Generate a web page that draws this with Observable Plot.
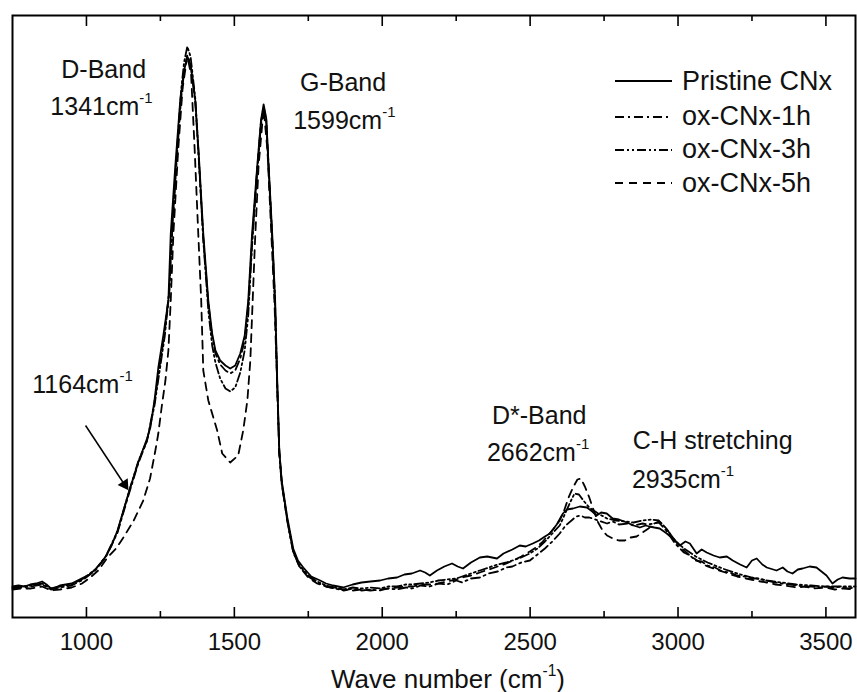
<!DOCTYPE html>
<html><head><meta charset="utf-8">
<script src="https://cdn.jsdelivr.net/npm/d3@7"></script>
<script src="https://cdn.jsdelivr.net/npm/@observablehq/plot@0.6"></script>
<style>body{margin:0;background:#fff}#chart{position:relative;width:857px;height:692px}</style>
</head><body><div id="chart"></div>
<script>
// Raman spectra: [wavenumber (cm-1), intensity (a.u.)]
const seriesNames = ["Pristine CNx", "ox-CNx-1h", "ox-CNx-3h", "ox-CNx-5h"];
const seriesDash = ["none", "9,4,2,4", "9,3,2,3,2,3", "8,6"];

const pristine = [[750,31],[770,32],[790,31],[810,33],[830,34],[850,36],[865,33],[880,29],[895,30],[910,32],[930,33],[950,34],[970,37],[990,40],[1010,43],[1030,48],[1047,54],[1065,61],[1085,72],[1105,87],[1125,107],[1145,127],[1159,140],[1175,155],[1190,167],[1205,179],[1216,190],[1230,217],[1243,250],[1260,282],[1277,317],[1285,384],[1300,450],[1317,517],[1330,547],[1341,561],[1352,553],[1368,517],[1380,462],[1395,384],[1412,317],[1425,284],[1436,267],[1452,257],[1470,252],[1486,249],[1503,252],[1520,264],[1535,282],[1547,317],[1560,384],[1577,450],[1590,497],[1599,513],[1608,499],[1615,457],[1628,384],[1638,317],[1645,237],[1652,167],[1660,137],[1679,100],[1699,69],[1715,57],[1733,50],[1760,41],[1790,37],[1810,34],[1834,32],[1868,30],[1900,33],[1930,35],[1960,36],[1993,37],[2020,39],[2050,40],[2075,43],[2100,44],[2128,47],[2145,45],[2161,42],[2185,47],[2210,51],[2236,54],[2255,51],[2273,49],[2300,55],[2330,60],[2355,61],[2388,59],[2410,64],[2440,68],[2465,72],[2485,71],[2509,74],[2530,77],[2550,81],[2567,84],[2590,93],[2611,104],[2624,108],[2645,109],[2668,111],[2692,110],[2710,106],[2725,102],[2740,105],[2759,104],[2779,99],[2800,98],[2827,95],[2850,92],[2871,90],[2890,92],[2904,91],[2920,90],[2938,89],[2962,84],[2982,79],[3006,72],[3025,76],[3040,74],[3063,64],[3080,68],[3097,65],[3120,62],[3141,60],[3165,61],[3185,57],[3210,53],[3232,50],[3250,57],[3266,59],[3285,53],[3300,50],[3333,47],[3354,50],[3370,46],[3387,44],[3405,48],[3421,49],[3445,51],[3468,50],[3485,46],[3502,42],[3522,34],[3540,38],[3556,40],[3580,39],[3600,39]];

const ox1h = [[750,29],[780,30],[810,31],[850,33],[880,28],[910,30],[950,32],[990,38],[1030,47],[1065,60],[1105,85],[1145,125],[1175,154],[1205,177],[1230,215],[1250,257],[1265,287],[1280,327],[1290,387],[1305,457],[1320,519],[1330,545],[1341,562],[1352,554],[1368,515],[1380,457],[1395,379],[1412,314],[1425,281],[1436,264],[1452,253],[1470,247],[1486,244],[1503,247],[1520,259],[1535,277],[1547,312],[1560,377],[1577,447],[1590,495],[1599,511],[1608,497],[1615,455],[1628,381],[1638,312],[1645,232],[1652,165],[1660,135],[1679,97],[1699,65],[1720,51],[1750,41],[1780,35],[1810,31],[1840,29],[1870,27],[1900,29],[1930,27],[1960,28],[1993,27],[2020,29],[2050,28],[2080,30],[2100,29],[2130,32],[2160,31],[2190,34],[2220,33],[2250,37],[2270,35],[2300,39],[2330,40],[2360,44],[2390,46],[2420,50],[2440,51],[2470,55],[2499,57],[2525,63],[2550,69],[2575,76],[2600,84],[2620,92],[2640,97],[2655,101],[2670,102],[2685,100],[2700,100],[2730,97],[2760,94],[2780,96],[2800,93],[2830,94],[2850,92],[2880,94],[2900,93],[2935,95],[2960,87],[2990,74],[3020,65],[3040,62],[3060,57],[3080,56],[3100,52],[3125,50],[3150,46],[3175,45],[3200,42],[3225,41],[3250,39],[3275,39],[3300,37],[3330,35],[3350,34],[3380,33],[3400,32],[3430,31],[3450,31],[3480,30],[3500,31],[3530,30],[3550,31],[3575,29],[3600,30]];

const ox3h = [[750,30],[780,31],[810,32],[850,34],[880,29],[910,31],[950,33],[990,39],[1030,48],[1065,61],[1105,86],[1145,127],[1175,156],[1205,177],[1230,212],[1250,252],[1265,282],[1280,325],[1290,387],[1305,462],[1320,527],[1330,555],[1341,571],[1352,561],[1368,519],[1380,459],[1395,377],[1412,307],[1425,272],[1436,255],[1452,239],[1470,229],[1486,226],[1503,230],[1520,245],[1535,267],[1547,302],[1560,372],[1577,445],[1590,493],[1599,509],[1608,495],[1615,453],[1628,379],[1638,311],[1645,231],[1652,164],[1660,134],[1679,97],[1699,66],[1720,52],[1750,42],[1780,36],[1810,32],[1840,30],[1870,28],[1900,30],[1930,29],[1960,30],[1993,29],[2020,31],[2050,31],[2080,33],[2100,33],[2130,34],[2160,35],[2190,37],[2220,38],[2250,39],[2270,41],[2300,44],[2330,47],[2360,50],[2390,53],[2420,55],[2440,57],[2470,60],[2499,64],[2525,69],[2550,76],[2575,84],[2600,92],[2620,105],[2635,115],[2650,124],[2665,123],[2680,117],[2700,110],[2730,104],[2760,99],[2790,97],[2820,96],[2850,95],[2880,97],[2910,98],[2935,97],[2960,89],[2990,77],[3020,69],[3060,61],[3100,55],[3150,49],[3200,44],[3250,40],[3300,37],[3350,35],[3400,33],[3450,32],[3500,31],[3550,31],[3600,31]];

const ox5h = [[750,28],[780,29],[810,29],[850,31],[880,27],[910,28],[950,30],[985,34],[1013,40],[1040,47],[1071,60],[1100,69],[1125,80],[1160,97],[1192,117],[1215,139],[1233,167],[1243,184],[1255,212],[1267,237],[1277,267],[1285,317],[1294,384],[1310,467],[1325,529],[1341,562],[1354,542],[1366,467],[1378,384],[1388,317],[1395,247],[1412,217],[1442,187],[1459,164],[1486,155],[1513,162],[1530,187],[1544,217],[1554,257],[1562,317],[1570,377],[1582,452],[1599,509],[1612,467],[1625,384],[1636,312],[1645,232],[1652,165],[1662,131],[1680,95],[1700,65],[1720,51],[1750,40],[1780,34],[1810,31],[1840,29],[1870,28],[1900,27],[1930,28],[1960,27],[1993,28],[2020,29],[2050,30],[2080,31],[2104,31],[2130,33],[2160,33],[2190,34],[2219,36],[2250,38],[2270,40],[2300,42],[2330,45],[2360,48],[2390,51],[2420,54],[2442,57],[2470,61],[2499,66],[2520,70],[2540,75],[2560,82],[2580,89],[2600,97],[2615,107],[2630,120],[2645,130],[2660,138],[2672,139],[2685,131],[2700,120],[2715,107],[2730,95],[2745,87],[2760,82],[2780,79],[2800,77],[2820,77],[2840,80],[2860,81],[2880,85],[2900,89],[2920,94],[2935,96],[2950,93],[2970,85],[2990,77],[3010,70],[3040,62],[3070,56],[3100,51],[3130,48],[3160,45],[3200,41],[3230,39],[3260,37],[3300,35],[3330,33],[3360,32],[3400,30],[3430,31],[3460,29],[3500,30],[3530,28],[3560,29],[3600,28]];

const majorTicks = [1000, 1500, 2000, 2500, 3000, 3500];
const minorTicks = [1250, 1750, 2250, 2750, 3250];

const annotations = [
  {x: 915, y: 540, text: "D-Band"},
  {x: 878, y: 503, text: "1341cm⁻¹"},
  {x: 1722, y: 527, text: "G-Band"},
  {x: 1699, y: 489, text: "1599cm⁻¹"},
  {x: 817, y: 225, text: "1164cm⁻¹"},
  {x: 2371, y: 194, text: "D*-Band"},
  {x: 2354, y: 157, text: "2662cm⁻¹"},
  {x: 2847, y: 169, text: "C-H stretching"},
  {x: 2844, y: 130, text: "2935cm⁻¹"}
];
// arrow pointing at the 1164 cm-1 shoulder: shaft and filled head
const arrowShaft = [{x1: 997, y1: 192, x2: 1133, y2: 131}];
const arrowHead = [{x: 1129, y: 133, angle: 146.5}];

const allSeries = [pristine, ox1h, ox3h, ox5h];
const rows = allSeries.flatMap((s, k) => s.map(([x, y]) => ({x, y, series: seriesNames[k]})));

const font = "'Liberation Sans', Arial, Helvetica, sans-serif";

const svg = Plot.plot({
  width: 857, height: 692,
  marginLeft: 12, marginRight: 2, marginTop: 15, marginBottom: 75,
  style: {fontFamily: font, color: "black", background: "white", overflow: "visible"},
  x: {domain: [750, 3600]},
  y: {domain: [0, 602], axis: null},
  marks: [
    ...seriesNames.map((name, k) => Plot.line(rows.filter(d => d.series === name), {
      x: "x", y: "y", stroke: "black", strokeWidth: 1.8,
      strokeDasharray: seriesDash[k] === "none" ? null : seriesDash[k],
      strokeLinejoin: "round"
    })),
    Plot.frame({stroke: "black", strokeWidth: 2}),
    Plot.ruleX(majorTicks, {x: d => d, y1: 0, y2: 10, stroke: "black", strokeWidth: 1.6}),
    Plot.ruleX(minorTicks, {x: d => d, y1: 0, y2: 6, stroke: "black", strokeWidth: 1.6}),
    Plot.ruleX(majorTicks, {x: d => d, y1: 602, y2: 591, stroke: "black", strokeWidth: 1.6}),
    Plot.ruleX(minorTicks, {x: d => d, y1: 602, y2: 596, stroke: "black", strokeWidth: 1.6}),
    Plot.axisX({ticks: majorTicks, tickFormat: "d", tickSize: 0, tickPadding: 15, fontSize: 24, label: null, color: "#111"}),
    Plot.text(annotations, {x: "x", y: "y", text: "text", textAnchor: "start", lineAnchor: "bottom", fontSize: 25, fill: "#111"}),
    Plot.link(arrowShaft, {x1: "x1", y1: "y1", x2: "x2", y2: "y2", stroke: "black", strokeWidth: 1.5}),
    Plot.dot(arrowHead, {x: "x", y: "y", symbol: "triangle", r: 4.5, rotate: "angle", fill: "black", stroke: null}),
    Plot.text(["Wave number (cm⁻¹)"], {text: d => d, frameAnchor: "bottom", dx: 14, dy: 70, lineAnchor: "bottom", fontSize: 26, fill: "#111"})
  ]
});

// legend (top-right inside the frame)
const lg = d3.select(svg).append("g").attr("class", "legend").attr("text-anchor", "start");
seriesNames.forEach((name, k) => {
  const yLine = [81, 117, 150, 183][k];
  const yText = [90, 125, 158, 192][k];
  lg.append("line").attr("x1", 615).attr("x2", 672).attr("y1", yLine).attr("y2", yLine)
    .attr("stroke", "black").attr("stroke-width", 1.8)
    .attr("stroke-dasharray", seriesDash[k] === "none" ? null : seriesDash[k]);
  lg.append("text").attr("x", 682).attr("y", yText).attr("font-size", 27)
    .attr("text-anchor", "start")
    .attr("font-family", font).attr("fill", "#111").text(name);
});

// superscript "-1" in cm⁻¹ labels
d3.select(svg).selectAll("text, tspan").each(function() {
  if (this.childElementCount) return;
  const s = this.textContent;
  const i = s.indexOf("⁻¹");
  if (i < 0) return;
  const before = s.slice(0, i), after = s.slice(i + 2);
  const el = d3.select(this);
  el.text(null);
  el.append("tspan").text(before);
  el.append("tspan").attr("font-size", "0.6em").attr("dy", "-0.75em").text("-1");
  if (after) el.append("tspan").attr("dy", "0.45em").text(after);
});

document.getElementById("chart").append(svg);
</script>
</body></html>
